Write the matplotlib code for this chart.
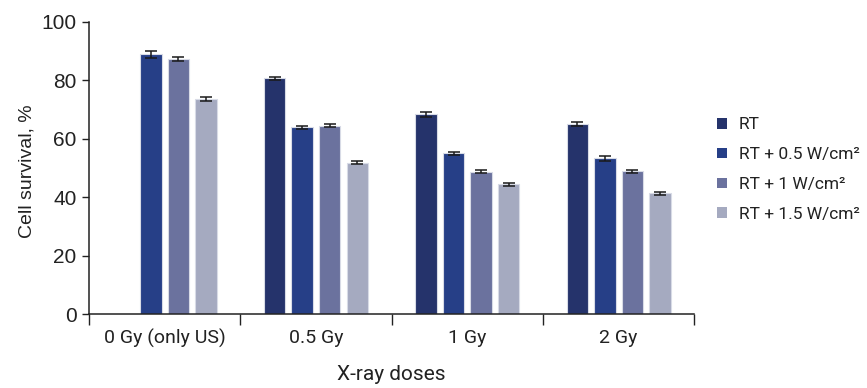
import matplotlib
matplotlib.use("Agg")
import matplotlib.pyplot as plt
import numpy as np
from matplotlib.patches import Patch

categories = ["0 Gy (only US)", "0.5 Gy", "1 Gy", "2 Gy"]
series_names = ["RT", "RT + 0.5 W/cm²", "RT + 1 W/cm²", "RT + 1.5 W/cm²"]
rt = [0.0, 80.7, 68.4, 65.0]
rt_05 = [88.9, 63.9, 55.0, 53.3]
rt_1 = [87.3, 64.5, 48.7, 48.9]
rt_15 = [73.5, 51.8, 44.4, 41.4]
err_rt = [0.0, 0.6, 0.8, 0.7]
err_05 = [1.3, 0.5, 0.4, 0.8]
err_1 = [0.7, 0.6, 0.5, 0.5]
err_15 = [0.7, 0.6, 0.5, 0.5]
colors = ["#25336b", "#263f87", "#6b729e", "#a5aac0"]

values = [rt, rt_05, rt_1, rt_15]
errors = [err_rt, err_05, err_1, err_15]

fig = plt.figure(figsize=(8.67, 3.88), dpi=100)
ax = fig.add_axes([0.1027, 0.1907, 0.698, 0.7526])

x = np.arange(len(categories))
spacing = 0.182
width = 0.142
for i, (vals, errs, c) in enumerate(zip(values, errors, colors)):
    off = (i - 1.5) * spacing
    for j in range(len(x)):
        if vals[j] <= 0:
            continue
        ax.bar(x[j] + off, vals[j], width, color=c, edgecolor="#d8dbe6", linewidth=0.8, zorder=2)
        ax.errorbar(x[j] + off, vals[j], yerr=errs[j], fmt="none", ecolor="#1a1a1a",
                    elinewidth=1.1, capsize=4, capthick=1.1, zorder=3)

ax.set_xlim(-0.5, 3.5)
ax.set_ylim(0, 100)
ax.spines["top"].set_visible(False)
ax.spines["right"].set_visible(False)
for s in ["left", "bottom"]:
    ax.spines[s].set_color("#222222")
    ax.spines[s].set_linewidth(1.1)

ax.set_yticks([0, 20, 40, 60, 80, 100])
ax.tick_params(axis="y", direction="out", length=5, width=1.0, color="#222222",
               labelsize=15, labelcolor="#222222", pad=4)
for lab in ax.get_yticklabels():
    lab.set_family("Liberation Sans")

ax.set_xticks(x)
ax.set_xticklabels(categories, family="Roboto", fontsize=14, color="#222222")
ax.tick_params(axis="x", which="major", length=0, pad=11)
ax.set_xticks(np.arange(-0.5, 4.0, 1.0), minor=True)
ax.tick_params(axis="x", which="minor", direction="out", length=8, width=1.0, color="#222222")

ax.set_ylabel("Cell survival, %", family="Liberation Sans", fontsize=14, color="#222222")
ax.yaxis.set_label_coords(-0.088, 0.49)
ax.set_xlabel("X-ray doses", family="Roboto", fontsize=15, color="#222222", labelpad=12)

handles = [Patch(facecolor=c, edgecolor="none") for c in colors]
fig.legend(handles, series_names, loc="center left", bbox_to_anchor=(0.827, 0.563),
           frameon=False, prop={"family": "Roboto", "size": 12.5}, handlelength=0.55,
           handleheight=0.55, handletextpad=0.7, labelspacing=0.85, labelcolor="#222222",
           borderpad=0, borderaxespad=0)

fig.savefig("out.png", dpi=100)
